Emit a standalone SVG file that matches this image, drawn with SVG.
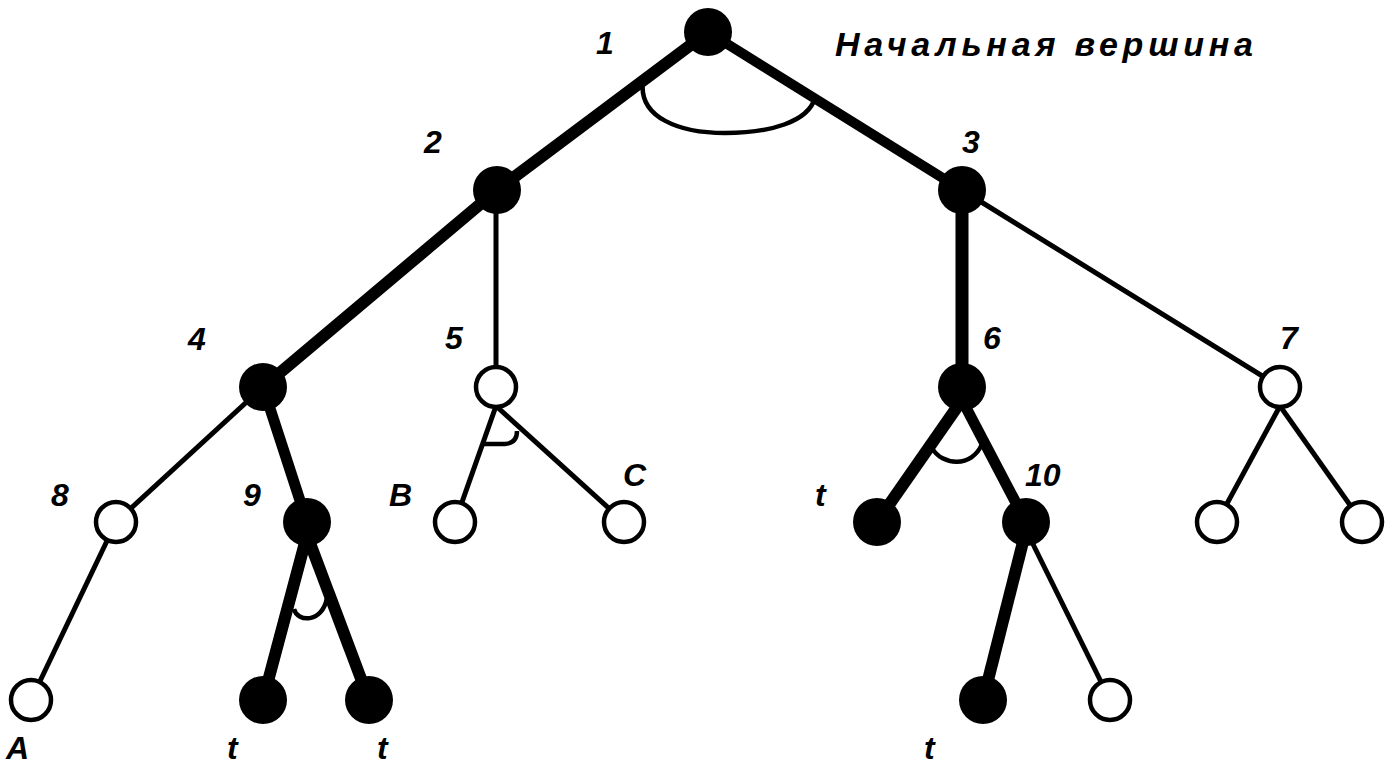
<svg xmlns="http://www.w3.org/2000/svg" width="1385" height="765" viewBox="0 0 1385 765">
<style>
.thick{stroke:#000;stroke-linecap:butt;fill:none}
.thin{stroke:#000;stroke-width:5;fill:none}
.arc{stroke:#000;stroke-width:4.5;fill:none}
.f{fill:#000}
.o{fill:#fff;stroke:#000;stroke-width:4.5}
.lbl{font-family:"Liberation Sans",Arial,sans-serif;font-size:32px;font-weight:bold;font-style:italic;fill:#000}
.ttl{font-family:"Liberation Sans",Arial,sans-serif;font-size:34px;font-weight:bold;font-style:italic;fill:#000}
</style>
<rect width="1385" height="765" fill="#fff"/>
<g id="connectors">
<line class="thick" stroke-width="12" x1="708" y1="32" x2="497" y2="190"/>
<line class="thick" stroke-width="10" x1="708" y1="32" x2="962" y2="190"/>
<line class="thick" stroke-width="12" x1="497" y1="190" x2="263" y2="387"/>
<line class="thin" x1="496" y1="190" x2="496" y2="387"/>
<line class="thick" stroke-width="13" x1="962" y1="190" x2="962" y2="387"/>
<line class="thin" x1="962" y1="190" x2="1280" y2="387"/>
<line class="thin" x1="263" y1="387" x2="116" y2="522"/>
<line class="thick" stroke-width="11" x1="263" y1="387" x2="307" y2="522"/>
<line class="thin" x1="496" y1="406" x2="455" y2="522"/>
<line class="thin" x1="496" y1="406" x2="624" y2="522"/>
<line class="thick" stroke-width="12" x1="962" y1="400" x2="877" y2="522"/>
<line class="thick" stroke-width="11" x1="962" y1="400" x2="1026" y2="522"/>
<line class="thin" x1="1280" y1="406" x2="1217" y2="522"/>
<line class="thin" x1="1280" y1="406" x2="1362" y2="522"/>
<line class="thin" x1="116" y1="522" x2="31" y2="700"/>
<line class="thick" stroke-width="12" x1="307" y1="535" x2="263" y2="700"/>
<line class="thick" stroke-width="12" x1="307" y1="535" x2="369" y2="700"/>
<line class="thick" stroke-width="12" x1="1026" y1="530" x2="983" y2="700"/>
<line class="thin" x1="1026" y1="530" x2="1110" y2="700"/>
<path class="arc" d="M643,81 C638,118 680,133 725,133 C770,133 808,122 815,98"/>
<path class="arc" d="M483,444 L505,444 Q517,443 517,431"/>
<path class="arc" d="M932,448 C942,466 972,468 982,444"/>
<path class="arc" d="M294,609 C297,622 322,624 327,598"/>
</g>
<g id="n1"><circle class="f" cx="708" cy="32" r="24"/><text class="lbl" x="596" y="54">1</text></g>
<g id="title"><text class="ttl" x="835" y="56" textLength="418" lengthAdjust="spacing">Начальная вершина</text></g>
<g id="n2"><circle class="f" cx="497" cy="190" r="24"/><text class="lbl" x="424" y="153">2</text></g>
<g id="n3"><circle class="f" cx="962" cy="190" r="24"/><text class="lbl" x="962" y="153">3</text></g>
<g id="n4"><circle class="f" cx="263" cy="387" r="24"/><text class="lbl" x="188" y="350">4</text></g>
<g id="n5"><circle class="o" cx="496" cy="387" r="20"/><text class="lbl" x="445" y="349">5</text></g>
<g id="n6"><circle class="f" cx="962" cy="387" r="24"/><text class="lbl" x="983" y="349">6</text></g>
<g id="n7"><circle class="o" cx="1280" cy="387" r="20"/><text class="lbl" x="1280" y="349">7</text></g>
<g id="n8"><circle class="o" cx="116" cy="522" r="20"/><text class="lbl" x="51" y="506">8</text></g>
<g id="n9"><circle class="f" cx="307" cy="522" r="24"/><text class="lbl" x="243" y="506">9</text></g>
<g id="nB"><circle class="o" cx="455" cy="522" r="20"/><text class="lbl" x="389" y="506">B</text></g>
<g id="nC"><circle class="o" cx="624" cy="522" r="20"/><text class="lbl" x="623" y="486">C</text></g>
<g id="nt6"><circle class="f" cx="877" cy="522" r="24"/><text class="lbl" x="815" y="506">t</text></g>
<g id="n10"><circle class="f" cx="1026" cy="522" r="24"/><text class="lbl" x="1025" y="486">10</text></g>
<g id="n7a"><circle class="o" cx="1217" cy="522" r="20"/></g>
<g id="n7b"><circle class="o" cx="1362" cy="522" r="20"/></g>
<g id="nA"><circle class="o" cx="31" cy="700" r="20"/><text class="lbl" x="6" y="759">A</text></g>
<g id="nt9a"><circle class="f" cx="263" cy="700" r="24"/><text class="lbl" x="227" y="759">t</text></g>
<g id="nt9b"><circle class="f" cx="369" cy="700" r="24"/><text class="lbl" x="377" y="759">t</text></g>
<g id="nt10"><circle class="f" cx="983" cy="700" r="24"/><text class="lbl" x="924" y="759">t</text></g>
<g id="n10b"><circle class="o" cx="1110" cy="700" r="20"/></g>
</svg>
